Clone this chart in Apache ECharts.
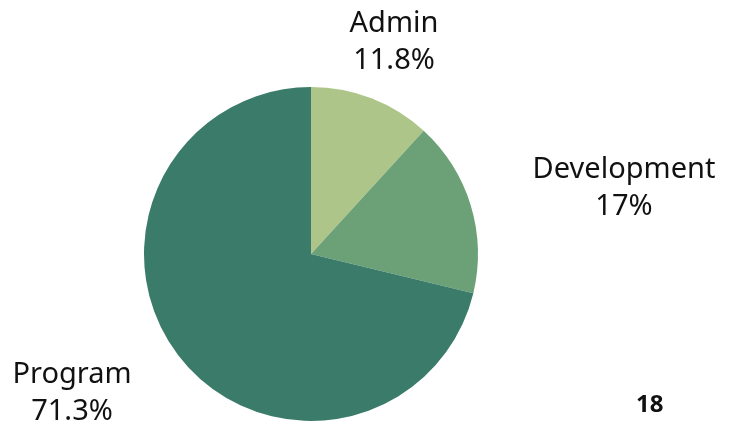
<!DOCTYPE html>
<html>
<head>
<meta charset="utf-8">
<script src="https://cdn.jsdelivr.net/npm/echarts@6/dist/echarts.min.js"></script>
<style>html,body{margin:0;padding:0;background:#fff;}#c{width:738px;height:427px;}</style>
</head>
<body>
<div id="c"></div>
<script>
var categories = ['Admin', 'Development', 'Program'];
var values = [11.8, 17, 71.3];
var valueLabels = ['11.8%', '17%', '71.3%'];
var pageNumber = '18';

var colors = ['#adc588', '#6ca178', '#3b7b6a'];
// label anchor positions (text block centers)
var labelPos = [[394, 42], [624, 188], [72, 393]];

var chart = echarts.init(document.getElementById('c'));
chart.setOption({
  animation: false,
  graphic: [{
    type: 'text', left: 636, top: 393,
    style: { text: pageNumber, font: 'bold 24px "Noto Sans"', fill: '#111' }
  }],
  series: [{
    type: 'pie',
    center: [311, 254],
    radius: 167,
    startAngle: 90,
    clockwise: true,
    avoidLabelOverlap: false,
    itemStyle: { borderWidth: 0 },
    label: {
      show: true,
      position: 'outside',
      formatter: function (p) { return p.name + '\n' + valueLabels[p.dataIndex]; },
      fontFamily: 'Noto Sans',
      fontSize: 29,
      lineHeight: 37,
      color: '#111',
      align: 'center'
    },
    labelLine: { show: false },
    labelLayout: function (p) {
      var pos = labelPos[p.dataIndex];
      return { x: pos[0], y: pos[1], align: 'center', verticalAlign: 'middle' };
    },
    emphasis: { disabled: true },
    data: categories.map(function (c, i) {
      return { name: c, value: values[i], itemStyle: { color: colors[i] } };
    })
  }]
});
</script>
</body>
</html>
